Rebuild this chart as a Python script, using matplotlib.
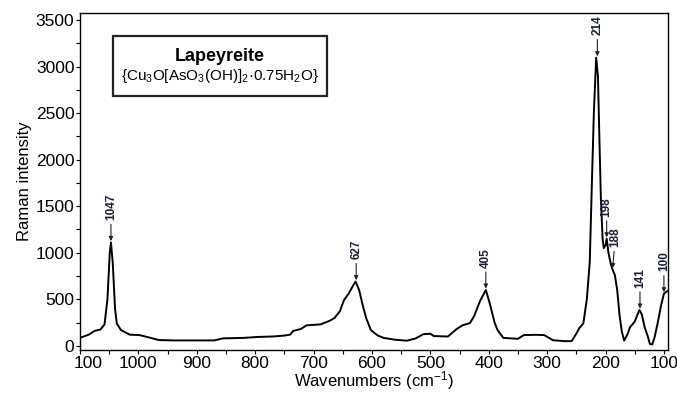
import matplotlib
matplotlib.use("Agg")
import matplotlib.pyplot as plt
import matplotlib.transforms as mtransforms
from matplotlib.patches import Rectangle
from matplotlib.ticker import MultipleLocator

plt.rcParams['font.family'] = ['Liberation Sans', 'DejaVu Sans']
plt.rcParams['mathtext.fontset'] = 'custom'
plt.rcParams['mathtext.rm'] = 'Liberation Sans'
plt.rcParams['mathtext.it'] = 'Liberation Sans:italic'
plt.rcParams['mathtext.bf'] = 'Liberation Sans:bold'

# ---- data ----
wavenumber = [1100, 1085, 1075, 1065, 1058, 1053, 1049, 1047, 1044, 1040, 1037, 1030,
              1015, 998, 985, 965, 940, 900, 870, 855, 820, 796, 770, 750, 740, 735,
              722, 712, 700, 688, 672, 664, 655, 648, 640, 632, 628, 622, 616, 610,
              602, 590, 580, 560, 540, 525, 512, 500, 494, 470, 455, 445, 432, 425,
              415, 405, 398, 390, 385, 375, 350, 340, 320, 305, 290, 270, 258, 250,
              245, 238, 232, 227, 224, 220, 216, 213, 210, 208, 205, 203, 200, 198,
              195, 191, 188, 184, 180, 176, 172, 168, 162, 158, 150, 142, 138, 133,
              128, 124, 120, 116, 110, 105, 100, 95, 92]
intensity = [85, 120, 160, 175, 230, 500, 1000, 1110, 900, 400, 240, 170,
             120, 115, 95, 62, 58, 58, 58, 80, 85, 95, 100, 110, 120, 160,
             180, 220, 225, 230, 270, 300, 370, 490, 560, 650, 690, 600, 440, 300,
             170, 110, 85, 65, 55, 80, 125, 130, 105, 100, 180, 220, 245, 320,
             480, 600, 450, 250, 170, 85, 75, 115, 118, 115, 60, 50, 50, 130,
             190, 240, 500, 900, 1600, 2500, 3095, 2900, 2100, 1600, 1150, 1050, 1080, 1150,
             1000, 880, 820, 760, 600, 330, 150, 55, 130, 200, 260, 385, 340, 200,
             110, 20, 15, 90, 265, 430, 560, 585, 590]

peak_positions = [1047, 627, 405, 214, 198, 188, 141, 100]
peak_heights = [1110, 690, 600, 3095, 1150, 820, 385, 560]
peak_labels = ['1047', '627', '405', '214', '198', '188', '141', '100']

x_ticks = [1100, 1000, 900, 800, 700, 600, 500, 400, 300, 200, 100]
x_ticklabels = ['100', '1000', '900', '800', '700', '600', '500', '400', '300', '200', '100']
y_ticks = [0, 500, 1000, 1500, 2000, 2500, 3000, 3500]

title = 'Lapeyreite'
formula = '{Cu$_3$O[AsO$_3$(OH)]$_2$·0.75H$_2$O}'

# ---- figure ----
fig = plt.figure(figsize=(6.77, 3.93), dpi=100)
ax = fig.add_axes([80/677, 43/393, 588/677, 337/393])

ax.plot(wavenumber, intensity, color='black', lw=1.4)
ax.set_xlim(1100, 93)
ax.set_ylim(-45, 3575)

ax.set_xticks(x_ticks)
ax.set_xticklabels(x_ticklabels)
ax.xaxis.set_minor_locator(MultipleLocator(50))
ax.set_yticks(y_ticks)
ax.yaxis.set_minor_locator(MultipleLocator(250))
ax.tick_params(axis='both', which='major', direction='out', length=3, width=0.8,
               labelsize=12.5, pad=1, colors='black')
ax.tick_params(axis='both', which='minor', direction='out', length=3, width=0.8)
# shift first (truncated) x label to the right
first = ax.get_xticklabels()[0]
first.set_transform(first.get_transform() + mtransforms.ScaledTranslation(8/100, 0, fig.dpi_scale_trans))

for s in ax.spines.values():
    s.set_linewidth(1.0)

ax.set_xlabel('Wavenumbers (cm$^{-1}$)', fontsize=12, labelpad=-0.7)
ax.set_ylabel('Raman intensity', fontsize=12, labelpad=3)

for w, h, lab in zip(peak_positions, peak_heights, peak_labels):
    dx = 2 if lab == '188' else 0
    ax.annotate(lab, xy=(w, h), xytext=(dx, 16), textcoords='offset points',
                rotation=90, ha='center', va='bottom', fontsize=8.5, fontweight='bold',
                color='#1a1f3a',
                arrowprops=dict(arrowstyle='-|>', color='#222222', lw=0.8,
                                mutation_scale=6, shrinkA=1, shrinkB=1))

ax.add_patch(Rectangle((0.056, 0.755), 0.364, 0.177, transform=ax.transAxes,
                       fill=False, edgecolor='#222222', lw=1.6))
ax.text(0.238, 0.872, title, transform=ax.transAxes, ha='center', va='center',
        fontsize=13, fontweight='bold')
ax.text(0.238, 0.812, formula, transform=ax.transAxes, ha='center', va='center',
        fontsize=11)

fig.savefig('out.png', dpi=100)
